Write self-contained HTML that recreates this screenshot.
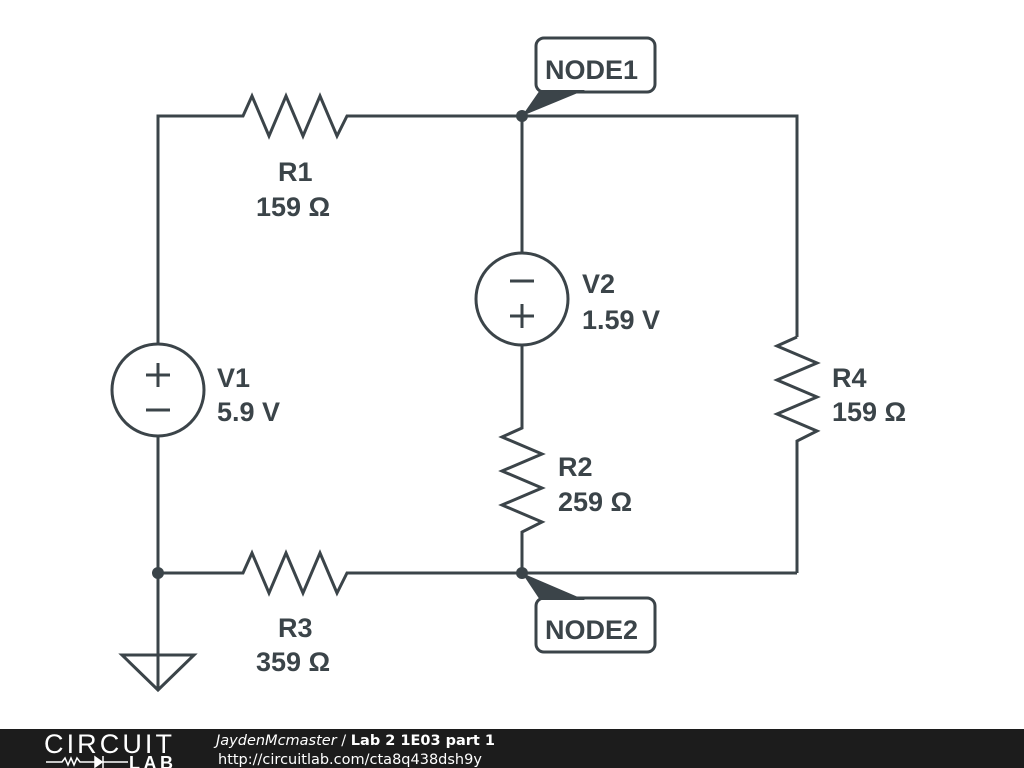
<!DOCTYPE html>
<html><head><style>
html,body{margin:0;padding:0;background:#fff;width:1024px;height:768px;overflow:hidden}
svg{display:block}
text{font-family:"Liberation Sans",sans-serif;font-weight:bold;fill:#3b4449;font-size:27px}
</style></head><body>
<svg width="1024" height="768" viewBox="0 0 1024 768">
<g stroke="#3b4449" stroke-width="3" fill="none" stroke-linejoin="miter">
<polyline points="158,344 158,116 243,116 252,96 269,136 286,96 303,136 320,96 337,136 347,116 797,116 797,337"/>
<polyline points="797,337 777,346 817,363 777,380 817,397 777,414 817,431 797,441 797,573"/>
<polyline points="158,436 158,690"/>
<polyline points="158,573 243,573 252,553 269,593 286,553 303,593 320,553 337,593 347,573 797,573"/>
<polyline points="522,116 522,253"/>
<polyline points="522,345 522,428 502,437 542,454 502,471 542,488 502,505 542,522 522,532 522,573"/>
<circle cx="158" cy="390" r="46"/>
<circle cx="522" cy="299" r="46"/>
<line x1="146" y1="375" x2="170" y2="375"/><line x1="158" y1="363" x2="158" y2="387"/>
<line x1="146" y1="410" x2="170" y2="410"/>
<line x1="510" y1="281" x2="534" y2="281"/>
<line x1="510" y1="316" x2="534" y2="316"/><line x1="522" y1="304" x2="522" y2="328"/>
<polygon points="122,655 194,655 158,690"/>
<rect x="536" y="38" width="119" height="54" rx="8" fill="#fff"/>
<rect x="536" y="598" width="119" height="54" rx="8" fill="#fff"/>
</g>
<g fill="#3b4449">
<polygon points="540,90 585,90 522,116"/>
<polygon points="540,600 585,600 522,573"/>
<circle cx="522" cy="116" r="6"/>
<circle cx="522" cy="573" r="6"/>
<circle cx="158" cy="573" r="6"/>
</g>
<text x="545" y="79" font-size="30">NODE1</text>
<text x="545" y="639" font-size="30">NODE2</text>
<text x="278" y="181">R1</text>
<text x="256" y="216">159 Ω</text>
<text x="217" y="387">V1</text>
<text x="217" y="421">5.9 V</text>
<text x="582" y="293">V2</text>
<text x="582" y="329">1.59 V</text>
<text x="832" y="387">R4</text>
<text x="832" y="421">159 Ω</text>
<text x="558" y="476">R2</text>
<text x="558" y="511">259 Ω</text>
<text x="278" y="637">R3</text>
<text x="256" y="671">359 Ω</text>
<rect x="0" y="729" width="1024" height="39" fill="#1c1c1c"/>
<g stroke="#fff" fill="none" stroke-width="1.5">
<polyline points="46,762 62,762 65,758 68,765 71,758 74,765 77,758 80,762 95,762"/>
<polygon points="95,757 95,767 102,762" fill="#fff"/>
<line x1="103" y1="756" x2="103" y2="768"/><line x1="103" y1="762" x2="128" y2="762"/>
</g>
<text x="44" y="753" textLength="128" style="font-weight:normal;fill:#fff;font-size:27px">CIRCUIT</text>
<text x="129" y="769" textLength="44" style="fill:#fff;font-size:18px">LAB</text>
<text x="216" y="745" style="font-family:'DejaVu Sans',sans-serif;font-weight:normal;fill:#fff;font-size:14.5px"><tspan font-style="italic">JaydenMcmaster</tspan> / <tspan font-weight="bold">Lab 2 1E03 part 1</tspan></text>
<text x="218" y="764" style="font-family:'DejaVu Sans',sans-serif;font-weight:normal;fill:#fff;font-size:14.5px">http://circuitlab.com/cta8q438dsh9y</text>
</svg>
</body></html>
